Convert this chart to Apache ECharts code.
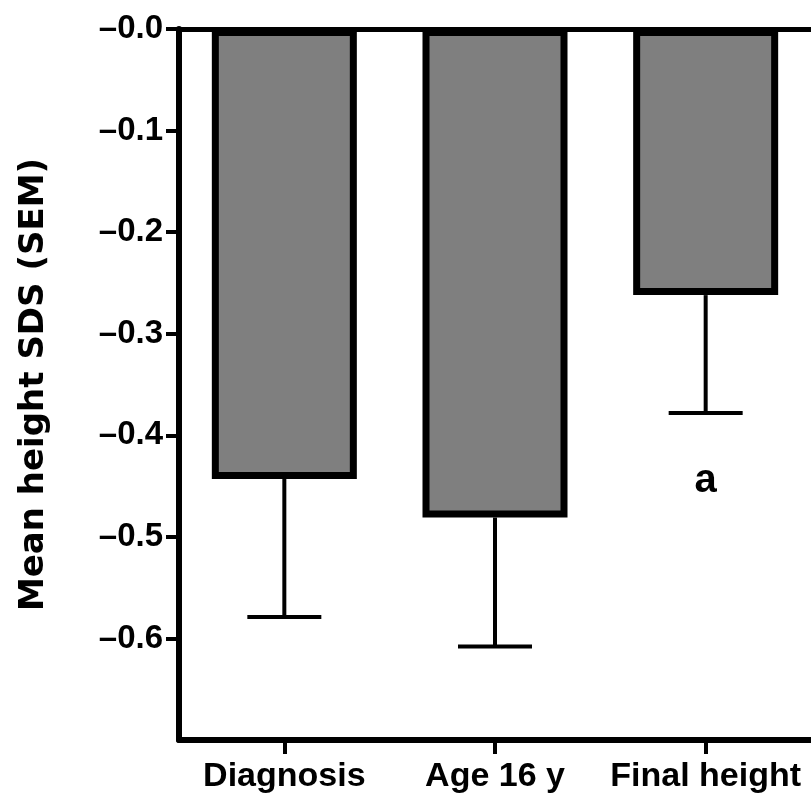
<!DOCTYPE html>
<html><head><meta charset="utf-8">
<script src="https://cdn.jsdelivr.net/npm/echarts@6/dist/echarts.min.js"></script>
<style>html,body{margin:0;padding:0;background:#fff}#c{width:811px;height:803px}</style>
</head><body><div id="c"></div>
<script>
const categories = ['Diagnosis', 'Age 16 y', 'Final height'];
const meanSDS = [-0.443, -0.481, -0.262];
const semSDS = [0.136, 0.127, 0.116];
const sigMarks = ['', '', 'a'];
const yTicks = [0, -0.1, -0.2, -0.3, -0.4, -0.5, -0.6];
const yMin = -0.7, yMax = 0, yStep = 0.1;

const FONT = '"Liberation Sans", Arial, sans-serif';
const chart = echarts.init(document.getElementById('c'), null, {renderer: 'canvas'});

const errData = categories.map((c, i) => [i, meanSDS[i], semSDS[i], sigMarks[i]]);

chart.setOption({
  animation: false,
  backgroundColor: '#fff',
  grid: {left: 179, top: 29, bottom: 63, right: -6, containLabel: false},
  xAxis: [{
    type: 'category', data: categories, position: 'bottom',
    axisLine: {onZero: false, lineStyle: {color: '#000', width: 6}},
    axisTick: {show: true, interval: 0, alignWithLabel: true, length: 14, lineStyle: {color: '#000', width: 4}},
    axisLabel: {interval: 0, hideOverlap: false, color: '#000', fontFamily: FONT, fontWeight: 'bold', fontSize: 34, margin: 20}
  }, {
    type: 'category', data: categories, position: 'top',
    axisLine: {onZero: false, lineStyle: {color: '#000', width: 5}},
    axisTick: {show: false}, axisLabel: {show: false}
  }],
  yAxis: {
    type: 'value', min: yMin, max: yMax, interval: yStep,
    name: 'Mean height SDS (SEM)', nameLocation: 'middle', nameGap: 128,
    nameTextStyle: {color: '#000', fontFamily: '"DejaVu Sans", sans-serif', fontWeight: 'bold', fontSize: 34},
    axisLine: {show: true, lineStyle: {color: '#000', width: 6}},
    axisTick: {show: true, length: 13, customValues: yTicks, lineStyle: {color: '#000', width: 4}},
    axisLabel: {
      color: '#000', fontFamily: FONT, fontWeight: 'bold', fontSize: 33, margin: 16,
      customValues: yTicks,
      formatter: v => '\u2013' + Math.abs(v).toFixed(1)
    },
    splitLine: {show: false}
  },
  series: [{
    type: 'bar', data: meanSDS, barWidth: 145, xAxisIndex: 0,
    itemStyle: {color: '#7f7f7f', borderColor: '#000', borderWidth: 7},
    z: 2
  }, {
    type: 'custom', data: errData, z: 3, xAxisIndex: 0,
    renderItem: (params, api) => {
      const i = api.value(0), m = api.value(1), s = api.value(2);
      const top = api.coord([i, m]);
      const bot = api.coord([i, m - s]);
      const half = 37;
      const children = [
        {type: 'line', shape: {x1: top[0], y1: top[1], x2: bot[0], y2: bot[1]}, style: {stroke: '#000', lineWidth: 4}},
        {type: 'line', shape: {x1: bot[0] - half, y1: bot[1], x2: bot[0] + half, y2: bot[1]}, style: {stroke: '#000', lineWidth: 4}}
      ];
      const mark = errData[params.dataIndex][3];
      if (mark) {
        children.push({type: 'text', x: bot[0], y: bot[1] + 68, style: {text: mark, fill: '#000', font: 'bold 40px "Liberation Sans", Arial, sans-serif', align: 'center', verticalAlign: 'middle'}});
      }
      return {type: 'group', children};
    }
  }]
});
</script></body></html>
